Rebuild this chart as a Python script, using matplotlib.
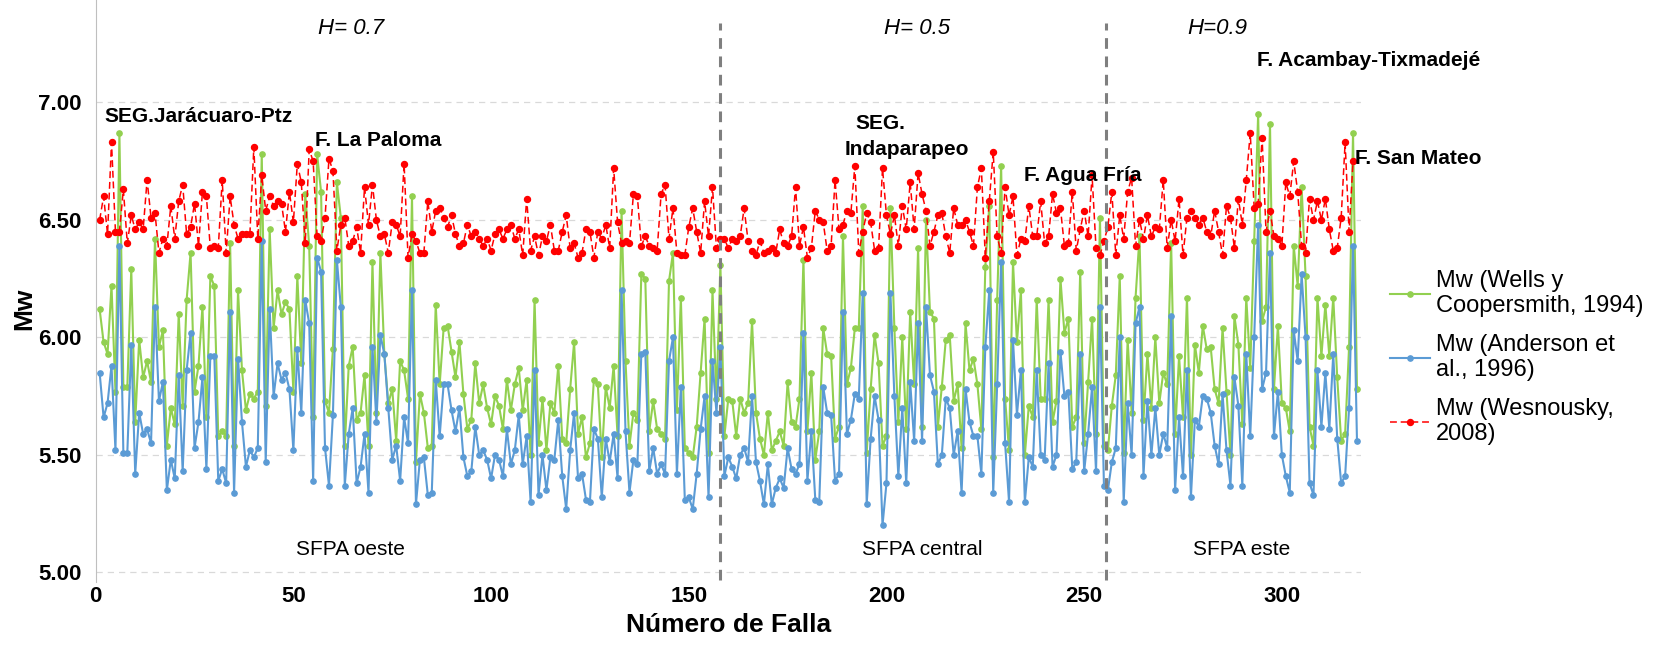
import numpy as np
import matplotlib
matplotlib.use("Agg")
import matplotlib.pyplot as plt
from matplotlib.lines import Line2D

# Magnitudes estimadas por falla para cada relación empírica
wells = [6.12, 5.98, 5.93, 6.22, 5.77, 6.87, 5.79, 5.79, 6.29, 5.64, 5.99, 5.83, 5.90, 5.81, 6.42, 5.96, 6.03, 5.54, 5.70, 5.63, 6.10, 5.71, 6.16, 6.36, 5.77,
         5.88, 6.13, 5.66, 6.26, 6.22, 5.58, 5.60, 5.58, 6.40, 5.54, 6.20, 5.86, 5.69, 5.76, 5.74, 5.77, 6.78, 5.71, 6.46, 6.04, 6.20, 6.10, 6.15, 6.12, 5.77, 6.26,
         5.89, 6.61, 6.39, 5.66, 6.78, 6.62, 5.73, 5.68, 5.95, 6.66, 6.51, 5.54, 5.88, 5.96, 5.65, 5.68, 5.84, 5.54, 6.32, 5.68, 6.36, 5.93, 5.72, 5.78, 5.56, 5.90, 5.86,
         5.74, 6.60, 5.47, 5.76, 5.68, 5.53, 5.54, 6.14, 5.80, 6.04, 6.05, 5.94, 5.83, 5.98, 5.76, 5.61, 5.65, 5.89, 5.72, 5.80, 5.70, 5.63, 5.75, 5.71, 5.61, 5.82, 5.69,
         5.80, 5.87, 5.69, 5.82, 5.50, 6.16, 5.55, 5.74, 5.52, 5.72, 5.68, 5.88, 5.57, 5.55, 5.78, 5.98, 5.59, 5.66, 5.49, 5.55, 5.82, 5.80, 5.49, 5.79, 5.70, 5.88,
         5.58, 6.54, 5.90, 5.54, 5.68, 5.65, 6.27, 6.25, 5.60, 5.73, 5.61, 5.59, 5.57, 6.24, 6.36, 5.69, 6.17, 5.53, 5.51, 5.49, 5.62, 5.85, 6.08, 5.51, 6.20, 5.74, 6.31,
         5.58, 5.74, 5.73, 5.58, 5.74, 5.68, 5.72, 6.07, 5.68, 5.57, 5.50, 5.68, 5.52, 5.56, 5.60, 5.54, 5.81, 5.64, 5.62, 5.74, 6.33, 5.60, 5.85, 5.48, 5.60, 6.04, 5.93,
         5.92, 5.57, 5.62, 6.43, 5.80, 5.87, 6.04, 6.04, 6.56, 5.51, 5.78, 6.01, 5.89, 5.54, 5.58, 6.55, 6.04, 5.64, 6.00, 5.61, 6.11, 5.80, 6.38, 5.62, 6.50, 6.11,
         6.08, 5.62, 5.79, 5.99, 6.01, 5.73, 5.80, 5.53, 6.06, 5.86, 5.91, 5.80, 5.61, 6.30, 6.56, 5.49, 6.16, 6.73, 5.74, 5.52, 6.32, 5.98, 6.20, 5.50, 5.71, 5.66, 6.16,
         5.74, 5.74, 6.16, 5.64, 5.73, 6.25, 6.02, 6.08, 5.62, 5.66, 6.28, 5.55, 5.81, 6.08, 5.59, 6.51, 5.54, 5.52, 5.71, 5.84, 6.26, 5.51, 5.99, 5.68, 6.17, 6.43,
         5.65, 5.93, 5.70, 6.00, 5.72, 5.85, 5.80, 6.40, 5.59, 5.92, 5.66, 6.17, 5.50, 5.97, 5.85, 6.05, 5.95, 5.96, 5.78, 5.72, 6.04, 5.77, 5.50, 6.09, 5.97, 5.63, 6.17,
         5.87, 6.41, 6.95, 6.07, 6.13, 6.91, 5.78, 6.05, 5.72, 5.70, 5.60, 6.39, 6.22, 6.64, 6.26, 5.62, 5.54, 6.17, 5.92, 6.14, 5.92, 6.17, 5.83, 5.56, 5.59, 5.96, 6.87, 5.78]

anderson = [5.85, 5.66, 5.72, 5.88, 5.52, 6.39, 5.51, 5.51, 5.97, 5.42, 5.68, 5.59, 5.61, 5.55, 6.13, 5.73, 5.81, 5.35, 5.48, 5.40, 5.84, 5.43, 5.86, 6.02, 5.53,
            5.64, 5.83, 5.44, 5.92, 5.92, 5.39, 5.44, 5.38, 6.11, 5.34, 5.91, 5.64, 5.45, 5.52, 5.49, 5.53, 6.41, 5.47, 6.12, 5.75, 5.89, 5.82, 5.85, 5.78, 5.52, 5.95,
            5.68, 6.16, 6.06, 5.39, 6.34, 6.28, 5.53, 5.37, 5.67, 6.33, 6.13, 5.37, 5.59, 5.70, 5.38, 5.45, 5.59, 5.34, 5.96, 5.64, 6.01, 5.93, 5.70, 5.48, 5.54, 5.39, 5.66,
            5.55, 6.20, 5.29, 5.48, 5.49, 5.33, 5.34, 5.82, 5.58, 5.80, 5.80, 5.69, 5.60, 5.70, 5.49, 5.41, 5.43, 5.62, 5.50, 5.52, 5.48, 5.40, 5.50, 5.48, 5.41, 5.61, 5.46,
            5.52, 5.67, 5.46, 5.58, 5.30, 5.86, 5.33, 5.50, 5.35, 5.49, 5.48, 5.65, 5.41, 5.27, 5.52, 5.68, 5.40, 5.42, 5.31, 5.30, 5.61, 5.57, 5.32, 5.57, 5.47, 5.59,
            5.40, 6.20, 5.60, 5.34, 5.48, 5.46, 5.93, 5.94, 5.43, 5.53, 5.42, 5.46, 5.42, 5.90, 6.00, 5.42, 5.79, 5.31, 5.32, 5.27, 5.42, 5.61, 5.75, 5.32, 5.90, 5.68, 5.96,
            5.41, 5.49, 5.45, 5.40, 5.50, 5.53, 5.47, 5.75, 5.47, 5.39, 5.29, 5.46, 5.29, 5.36, 5.40, 5.36, 5.53, 5.44, 5.42, 5.46, 6.02, 5.39, 5.60, 5.31, 5.30, 5.79, 5.68,
            5.67, 5.39, 5.42, 6.11, 5.59, 5.65, 5.76, 5.74, 6.19, 5.29, 5.57, 5.75, 5.65, 5.20, 5.38, 6.19, 5.75, 5.41, 5.70, 5.38, 5.81, 5.56, 6.06, 5.56, 6.13, 5.84,
            5.77, 5.46, 5.50, 5.74, 5.70, 5.50, 5.60, 5.34, 5.78, 5.64, 5.58, 5.58, 5.42, 5.96, 6.20, 5.34, 5.80, 6.32, 5.55, 5.30, 5.99, 5.67, 5.86, 5.30, 5.49, 5.45, 5.86,
            5.50, 5.48, 5.89, 5.45, 5.50, 5.94, 5.75, 5.77, 5.44, 5.47, 5.93, 5.43, 5.59, 5.79, 5.43, 6.13, 5.37, 5.35, 5.47, 5.53, 6.00, 5.30, 5.72, 5.50, 6.06, 6.13,
            5.41, 5.73, 5.50, 5.70, 5.50, 5.59, 5.53, 6.09, 5.35, 5.66, 5.41, 5.86, 5.32, 5.65, 5.62, 5.75, 5.74, 5.68, 5.54, 5.46, 5.76, 5.52, 5.37, 5.83, 5.71, 5.37, 5.93,
            5.58, 6.00, 6.48, 5.78, 5.85, 6.36, 5.58, 5.77, 5.50, 5.41, 5.34, 6.03, 5.90, 6.27, 6.00, 5.38, 5.33, 5.86, 5.62, 5.85, 5.61, 5.93, 5.57, 5.38, 5.41, 5.70, 6.39, 5.56]

wesnousky = [6.50, 6.60, 6.44, 6.83, 6.45, 6.45, 6.63, 6.40, 6.52, 6.46, 6.49, 6.46, 6.67, 6.51, 6.53, 6.36, 6.42, 6.39, 6.56, 6.42, 6.58, 6.65, 6.44, 6.47, 6.57,
             6.39, 6.62, 6.60, 6.38, 6.39, 6.38, 6.67, 6.36, 6.60, 6.48, 6.42, 6.44, 6.44, 6.44, 6.81, 6.42, 6.69, 6.54, 6.60, 6.56, 6.58, 6.57, 6.45, 6.62, 6.49, 6.74, 6.66,
             6.40, 6.80, 6.75, 6.43, 6.41, 6.51, 6.76, 6.71, 6.37, 6.48, 6.51, 6.39, 6.41, 6.47, 6.36, 6.64, 6.48, 6.65, 6.50, 6.43, 6.44, 6.36, 6.49, 6.48, 6.43, 6.74,
             6.34, 6.44, 6.41, 6.36, 6.36, 6.58, 6.45, 6.54, 6.55, 6.51, 6.47, 6.52, 6.44, 6.39, 6.40, 6.48, 6.43, 6.45, 6.42, 6.39, 6.42, 6.37, 6.44, 6.46, 6.42, 6.46, 6.48,
             6.42, 6.46, 6.35, 6.59, 6.37, 6.43, 6.35, 6.43, 6.41, 6.48, 6.37, 6.37, 6.45, 6.52, 6.38, 6.40, 6.34, 6.36, 6.46, 6.45, 6.34, 6.45, 6.42, 6.48, 6.38, 6.72,
             6.49, 6.40, 6.41, 6.40, 6.61, 6.60, 6.39, 6.43, 6.39, 6.38, 6.37, 6.61, 6.65, 6.42, 6.55, 6.36, 6.35, 6.35, 6.47, 6.55, 6.45, 6.36, 6.58, 6.43, 6.64, 6.38, 6.42,
             6.42, 6.38, 6.42, 6.41, 6.43, 6.55, 6.41, 6.37, 6.35, 6.41, 6.36, 6.37, 6.38, 6.36, 6.46, 6.40, 6.39, 6.43, 6.64, 6.39, 6.47, 6.34, 6.38, 6.54, 6.50, 6.49, 6.37,
             6.39, 6.67, 6.46, 6.48, 6.54, 6.53, 6.73, 6.36, 6.45, 6.53, 6.49, 6.37, 6.38, 6.72, 6.52, 6.44, 6.52, 6.39, 6.56, 6.46, 6.66, 6.46, 6.70, 6.61, 6.54, 6.39,
             6.45, 6.52, 6.53, 6.43, 6.36, 6.55, 6.48, 6.48, 6.50, 6.45, 6.39, 6.64, 6.72, 6.34, 6.58, 6.79, 6.43, 6.36, 6.64, 6.52, 6.60, 6.35, 6.42, 6.41, 6.56, 6.43, 6.43,
             6.58, 6.40, 6.43, 6.61, 6.53, 6.55, 6.39, 6.40, 6.62, 6.37, 6.46, 6.54, 6.43, 6.69, 6.38, 6.35, 6.41, 6.47, 6.62, 6.35, 6.52, 6.42, 6.62, 6.68, 6.39, 6.50,
             6.42, 6.52, 6.43, 6.47, 6.46, 6.67, 6.38, 6.50, 6.41, 6.59, 6.35, 6.51, 6.54, 6.51, 6.48, 6.51, 6.45, 6.43, 6.54, 6.45, 6.35, 6.56, 6.51, 6.38, 6.59, 6.48, 6.67,
             6.87, 6.55, 6.57, 6.85, 6.45, 6.54, 6.43, 6.42, 6.39, 6.66, 6.60, 6.75, 6.62, 6.39, 6.36, 6.59, 6.50, 6.58, 6.50, 6.59, 6.46, 6.37, 6.38, 6.51, 6.83, 6.45, 6.75]

etiquetas = ["Mw (Wells y\nCoopersmith, 1994)", "Mw (Anderson et\nal., 1996)", "Mw (Wesnousky,\n2008)"]
tramos = ["SFPA oeste", "SFPA central", "SFPA este"]
hurst = ["H= 0.7", "H= 0.5", "H=0.9"]
limites = [157.8, 255.4]

verde = "#92D050"
azul = "#5B9BD5"
rojo = "#FF0000"

plt.rcParams['font.family'] = ['Liberation Sans', 'DejaVu Sans']

fig = plt.figure(figsize=(16.67, 6.5), dpi=100)
ax = fig.add_axes([0.0574, 0.1048, 0.759, 0.8952])

x_w = np.arange(1, len(wells) + 1)
x_a = np.arange(1, len(anderson) + 1)
x_r = np.arange(1, len(wesnousky) + 1)

estilo_v = dict(color=verde, lw=1.5, marker='o', markersize=3.8)
estilo_a = dict(color=azul, lw=1.5, marker='o', markersize=3.8)
estilo_r = dict(color=rojo, lw=1.1, linestyle=(0, (4.5, 2.5)), marker='o', markersize=4.3)

ax.plot(x_w, wells, zorder=3, **estilo_v)
ax.plot(x_a, anderson, zorder=4, **estilo_a)
ax.plot(x_r, wesnousky, zorder=5, **estilo_r)

ax.vlines(limites, 4.97, 7.34, color="#7F7F7F", lw=2.2, linestyle=(0, (3.5, 2.5)), zorder=6)

ax.set_xlim(0, 320)
ax.set_ylim(4.96, 7.436)
ax.set_yticks([5.0, 5.5, 6.0, 6.5, 7.0])
ax.set_yticklabels(["5.00", "5.50", "6.00", "6.50", "7.00"])
ax.set_xticks([0, 50, 100, 150, 200, 250, 300])
ax.grid(axis='y', color="#D9D9D9", linestyle=(0, (5, 4)), lw=0.9)
ax.set_axisbelow(True)
ax.tick_params(axis='y', length=0, labelsize=16, pad=10)
ax.tick_params(axis='x', length=0, labelsize=16, pad=3)
for lab in ax.get_xticklabels() + ax.get_yticklabels():
    lab.set_fontweight('bold')

for s in ['top', 'right', 'bottom']:
    ax.spines[s].set_visible(False)
ax.spines['left'].set_color("#BFBFBF")

ax.set_xlabel("Número de Falla", fontsize=19, fontweight='bold', labelpad=4)
ax.set_ylabel("Mw", fontsize=19, fontweight='bold')
ax.yaxis.set_label_coords(-0.047, 0.47)

# Exponente de Hurst y nombre de cada tramo
for xc, h in zip([64.5, 207.8, 283.6], hurst):
    ax.text(xc, 7.315, h, fontsize=16, fontstyle='italic', ha='center', va='center')
for xc, t in zip([64.5, 209.0, 289.8], tramos):
    ax.text(xc, 5.097, t, fontsize=15, ha='center', va='center')

# Fallas principales
fallas = [("SEG.Jarácuaro-Ptz", 2.2, 6.94), ("F. La Paloma", 55.4, 6.84),
          ("SEG.", 192.2, 6.91), ("Indaparapeo", 189.5, 6.80),
          ("F. Agua Fría", 234.7, 6.69), ("F. Acambay-Tixmadejé", 293.8, 7.18),
          ("F. San Mateo", 318.5, 6.76)]
for nombre, xt, yt in fallas:
    ax.text(xt, yt, nombre, fontsize=15, fontweight='bold', ha='left', va='center',
            zorder=7, clip_on=False)

handles = [Line2D([], [], **estilo_v), Line2D([], [], **estilo_a), Line2D([], [], **estilo_r)]
fig.legend(handles, etiquetas, loc='center left', bbox_to_anchor=(0.828, 0.45),
           frameon=False, fontsize=17, handlelength=1.7, labelspacing=0.7,
           handletextpad=0.25, borderaxespad=0.0)

fig.savefig("out.png", dpi=100)
